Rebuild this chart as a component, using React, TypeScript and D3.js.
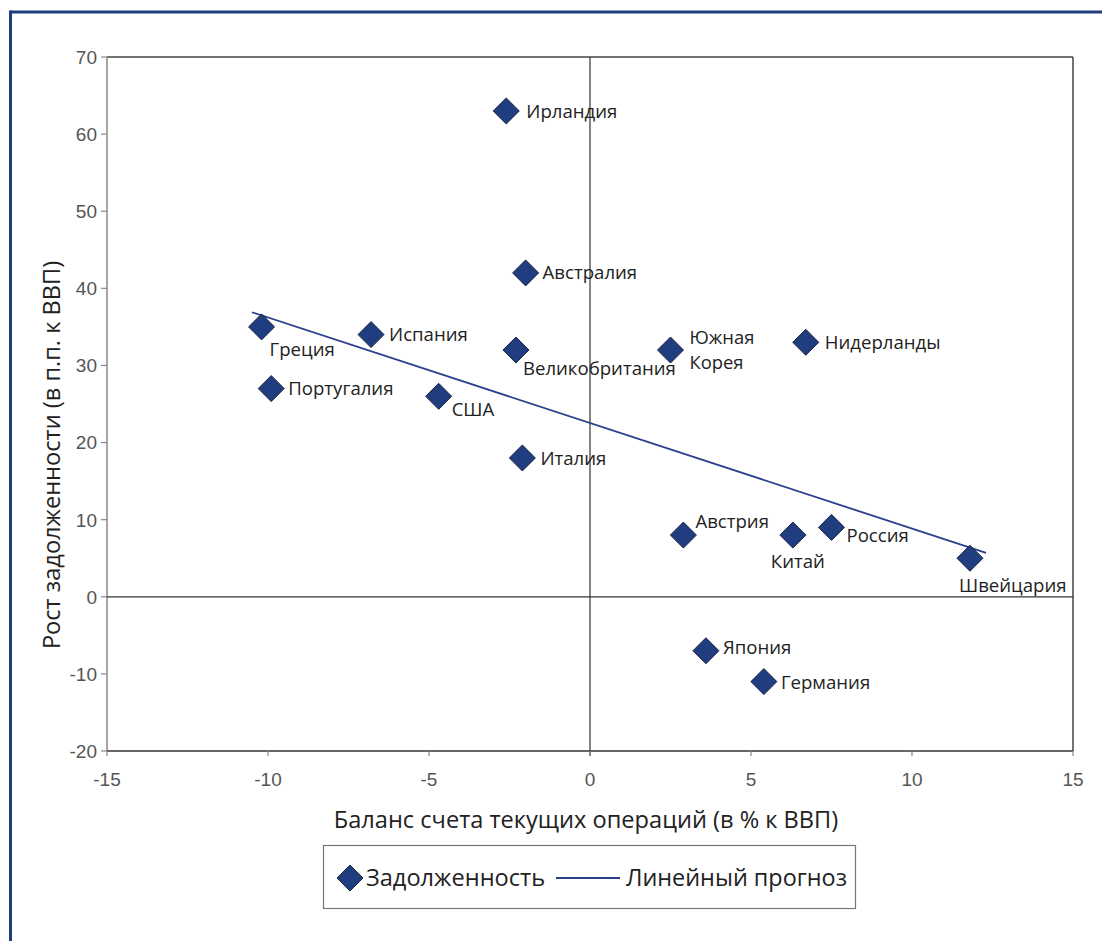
import React from 'react';
import * as d3 from 'd3';

const countries = ['Ирландия', 'Австралия', 'Греция', 'Испания', 'Великобритания', 'Южная Корея', 'Нидерланды', 'Португалия', 'США', 'Италия', 'Австрия', 'Китай', 'Россия', 'Швейцария', 'Япония', 'Германия'];
const currentAccount = [-2.6, -2.0, -10.2, -6.8, -2.3, 2.5, 6.7, -9.9, -4.7, -2.1, 2.9, 6.3, 7.5, 11.8, 3.6, 5.4];
const debtGrowth = [63, 42, 35, 34, 32, 32, 33, 27, 26, 18, 8, 8, 9, 5, -7, -11];
const trendX = [-10.5, 12.3];
const trendY = [36.9, 5.7];
const xTicks = [-15, -10, -5, 0, 5, 10, 15];
const yTicks = [-20, -10, 0, 10, 20, 30, 40, 50, 60, 70];

// label layout: dx/dy from marker centre, anchor
const labelLayout: Record<string, { dx: number; dy: number; anchor?: string }> = {
  'Ирландия': { dx: 20, dy: 1 },
  'Австралия': { dx: 17, dy: 0 },
  'Греция': { dx: 8, dy: 23 },
  'Испания': { dx: 18, dy: 0 },
  'Великобритания': { dx: 7, dy: 18 },
  'Южная Корея': { dx: 19, dy: 0 },
  'Нидерланды': { dx: 19, dy: 0 },
  'Португалия': { dx: 17, dy: 0 },
  'США': { dx: 13, dy: 13 },
  'Италия': { dx: 18, dy: 1 },
  'Австрия': { dx: 12, dy: -14 },
  'Китай': { dx: 5, dy: 26, anchor: 'middle' },
  'Россия': { dx: 15, dy: 8 },
  'Швейцария': { dx: -11, dy: 27 },
  'Япония': { dx: 17, dy: -3 },
  'Германия': { dx: 17, dy: 1 },
};

const W = 1102, H = 941;
const left = 107, right = 1073, top = 57, bottom = 751;
const blue = '#203d7f';
const labelFont = '"Open Sans", "DejaVu Sans", sans-serif';
const tickFont = '"Liberation Sans", Arial, sans-serif';

export default function App() {
  const x = d3.scaleLinear().domain([-15, 15]).range([left, right]);
  const y = d3.scaleLinear().domain([-20, 70]).range([bottom, top]);
  const diamondPath = (cx: number, cy: number, r: number) => `M${cx},${cy - r}L${cx + r},${cy}L${cx},${cy + r}L${cx - r},${cy}Z`;
  const trendLine = d3.line<number>().x((d) => x(trendX[d])).y((d) => y(trendY[d]));

  return (
    <svg width={W} height={H} style={{ position: 'absolute', left: 0, top: 0, background: '#fff' }}>
      {/* page frame */}
      <line x1={10.5} y1={12} x2={W} y2={12} stroke={blue} strokeWidth={3} />
      <line x1={10.5} y1={10.5} x2={10.5} y2={H} stroke={blue} strokeWidth={3} />

      {/* plot frame */}
      <line x1={left} y1={top} x2={right} y2={top} stroke="#444" strokeWidth={1.5} />
      <line x1={right} y1={top} x2={right} y2={bottom} stroke="#444" strokeWidth={1.5} />
      <line x1={left} y1={top} x2={left} y2={bottom} stroke="#888" strokeWidth={1.5} />
      <line x1={left} y1={bottom} x2={right} y2={bottom} stroke="#333" strokeWidth={1.5} />

      {/* zero lines */}
      <line x1={x(0)} y1={top} x2={x(0)} y2={bottom + 5} stroke="#333" strokeWidth={1.2} />
      <line x1={left} y1={y(0)} x2={right} y2={y(0)} stroke="#333" strokeWidth={1.2} />

      {/* y ticks */}
      {yTicks.map((t) => (
        <g key={'y' + t}>
          <line x1={left - 6} x2={left} y1={y(t)} y2={y(t)} stroke="#888" strokeWidth={1.2} />
          <text x={left - 10} y={y(t)} dy="0.36em" textAnchor="end" fontFamily={tickFont} fontSize={19} fill="#555">{t}</text>
        </g>
      ))}
      {/* x ticks */}
      {xTicks.map((t) => (
        <g key={'x' + t}>
          <line x1={x(t)} x2={x(t)} y1={bottom} y2={bottom + 5} stroke="#888" strokeWidth={1.2} />
          <text x={x(t)} y={bottom + 28} dy="0.36em" textAnchor="middle" fontFamily={tickFont} fontSize={19} fill="#555">{t}</text>
        </g>
      ))}

      {/* trend */}
      <path d={trendLine([0, 1]) ?? ''} stroke="#2a3f8c" strokeWidth={1.8} fill="none" />

      {/* points */}
      {countries.map((c, i) => {
        const cx = x(currentAccount[i]);
        const cy = y(debtGrowth[i]);
        const L = labelLayout[c];
        const lines = c === 'Южная Корея' ? ['Южная', 'Корея'] : [c];
        return (
          <g key={c}>
            <path d={diamondPath(cx, cy, 13)} fill={blue} stroke="#1a2240" strokeWidth={1} />
            {lines.length === 1 ? (
              <text x={cx + L.dx} y={cy + L.dy} dy="0.35em" textAnchor={L.anchor ?? 'start'} fontFamily={labelFont} fontSize={18.6} fill="#222">{c}</text>
            ) : (
              lines.map((ln, k) => (
                <text key={k} x={cx + L.dx} y={cy + L.dy + (k === 0 ? -12.5 : 12.5)} dy="0.35em" fontFamily={labelFont} fontSize={18.4} fill="#222">{ln}</text>
              ))
            )}
          </g>
        );
      })}

      {/* axis titles */}
      <text x={(left + right) / 2 - 4} y={820} dy="0.35em" textAnchor="middle" fontFamily={labelFont} fontSize={23.6} fill="#222">Баланс счета текущих операций (в % к ВВП)</text>
      <text transform={`translate(52,${455}) rotate(-90)`} dy="0.35em" textAnchor="middle" fontFamily={labelFont} fontSize={23.6} fill="#222">Рост задолженности (в п.п. к ВВП)</text>

      {/* legend */}
      <rect x={323.5} y={845.5} width={532} height={63} fill="#fff" stroke="#777" strokeWidth={1.2} />
      <path d={diamondPath(350, 878, 13)} fill={blue} stroke="#1a2240" strokeWidth={1} />
      <text x={366} y={878} dy="0.35em" fontFamily={labelFont} fontSize={23.6} fill="#222">Задолженность</text>
      <line x1={556} x2={620} y1={878} y2={878} stroke="#2a3f8c" strokeWidth={1.8} />
      <text x={626} y={878} dy="0.35em" fontFamily={labelFont} fontSize={23.4} fill="#222">Линейный прогноз</text>
    </svg>
  );
}
